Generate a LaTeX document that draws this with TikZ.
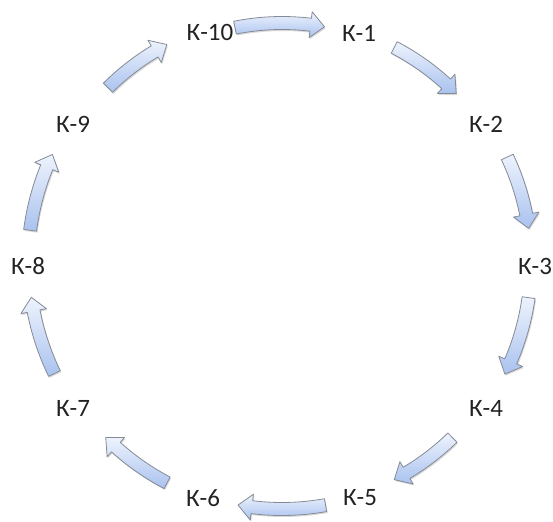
\documentclass[tikz,border=0pt]{standalone}
\usepackage{fontspec}
\setmainfont{Carlito}
\usetikzlibrary{shadows}

\definecolor{arrowtop}{HTML}{EEF3FD}
\definecolor{arrowbot}{HTML}{A9C2EF}
\definecolor{arrowline}{HTML}{858B96}
\definecolor{labeltext}{HTML}{222222}

% curved block arrow around the ring centre: radius, start angle, end angle
\newcommand{\ringarrow}[3]{%
  \pgfmathsetmacro{\ArR}{#1}%
  \pgfmathsetmacro{\ArSg}{sign(#3-#2)}%
  \pgfmathsetmacro{\ArH}{#3-\ArSg*14/#1*180/pi}%
  \pgfmathsetmacro{\ArOut}{#1+6.5}%
  \pgfmathsetmacro{\ArIn}{#1-6.5}%
  \pgfmathsetmacro{\ArHo}{#1+13}%
  \pgfmathsetmacro{\ArHi}{#1-13}%
  \path[ringarrow] (#2:\ArOut) arc[start angle=#2, end angle=\ArH, radius=\ArOut]
    -- (\ArH:\ArHo) -- (#3:\ArR) -- (\ArH:\ArHi) -- (\ArH:\ArIn)
    arc[start angle=\ArH, end angle=#2, radius=\ArIn] -- cycle;
}

\tikzset{
  lbl/.style={text=labeltext, font=\fontsize{25}{28}\selectfont, inner sep=0pt},
  ringarrow/.style={draw=arrowline, line width=0.8pt, line join=round,
    top color=arrowtop, bottom color=arrowbot,
    drop shadow={shadow xshift=1pt, shadow yshift=-1.5pt, opacity=0.25, fill=black!60}}
}

\begin{document}
\begin{tikzpicture}[x=1pt, y=-1pt]
  \useasboundingbox (0,0) rectangle (553,521);

  \node[lbl] (k10) at (210,32) {К-10};
  \node[lbl] (k1)  at (359,33) {К-1};
  \node[lbl] (k2)  at (486,124) {К-2};
  \node[lbl] (k3)  at (535,266) {К-3};
  \node[lbl] (k4)  at (486,408) {К-4};
  \node[lbl] (k5)  at (360,498) {К-5};
  \node[lbl] (k6)  at (203,498) {К-6};
  \node[lbl] (k7)  at (73,408)  {К-7};
  \node[lbl] (k8)  at (28,266)  {К-8};
  \node[lbl] (k9)  at (73,124)  {К-9};

  \begin{scope}[shift={(282,263)}]
    \ringarrow{240}{-101.3}{-79.8}
    \ringarrow{243}{-62.5}{-44.2}
    \ringarrow{249}{-25.2}{-8.0}
    \ringarrow{249}{8.0}{26.5}
    \ringarrow{244}{45.7}{62.6}
    \ringarrow{246}{79.8}{100.3}
    \ringarrow{248}{117.6}{135.3}
    \ringarrow{253}{154.1}{172.2}
    \ringarrow{254}{187.4}{205.3}
    \ringarrow{247}{225.2}{242.2}
  \end{scope}
\end{tikzpicture}
\end{document}
